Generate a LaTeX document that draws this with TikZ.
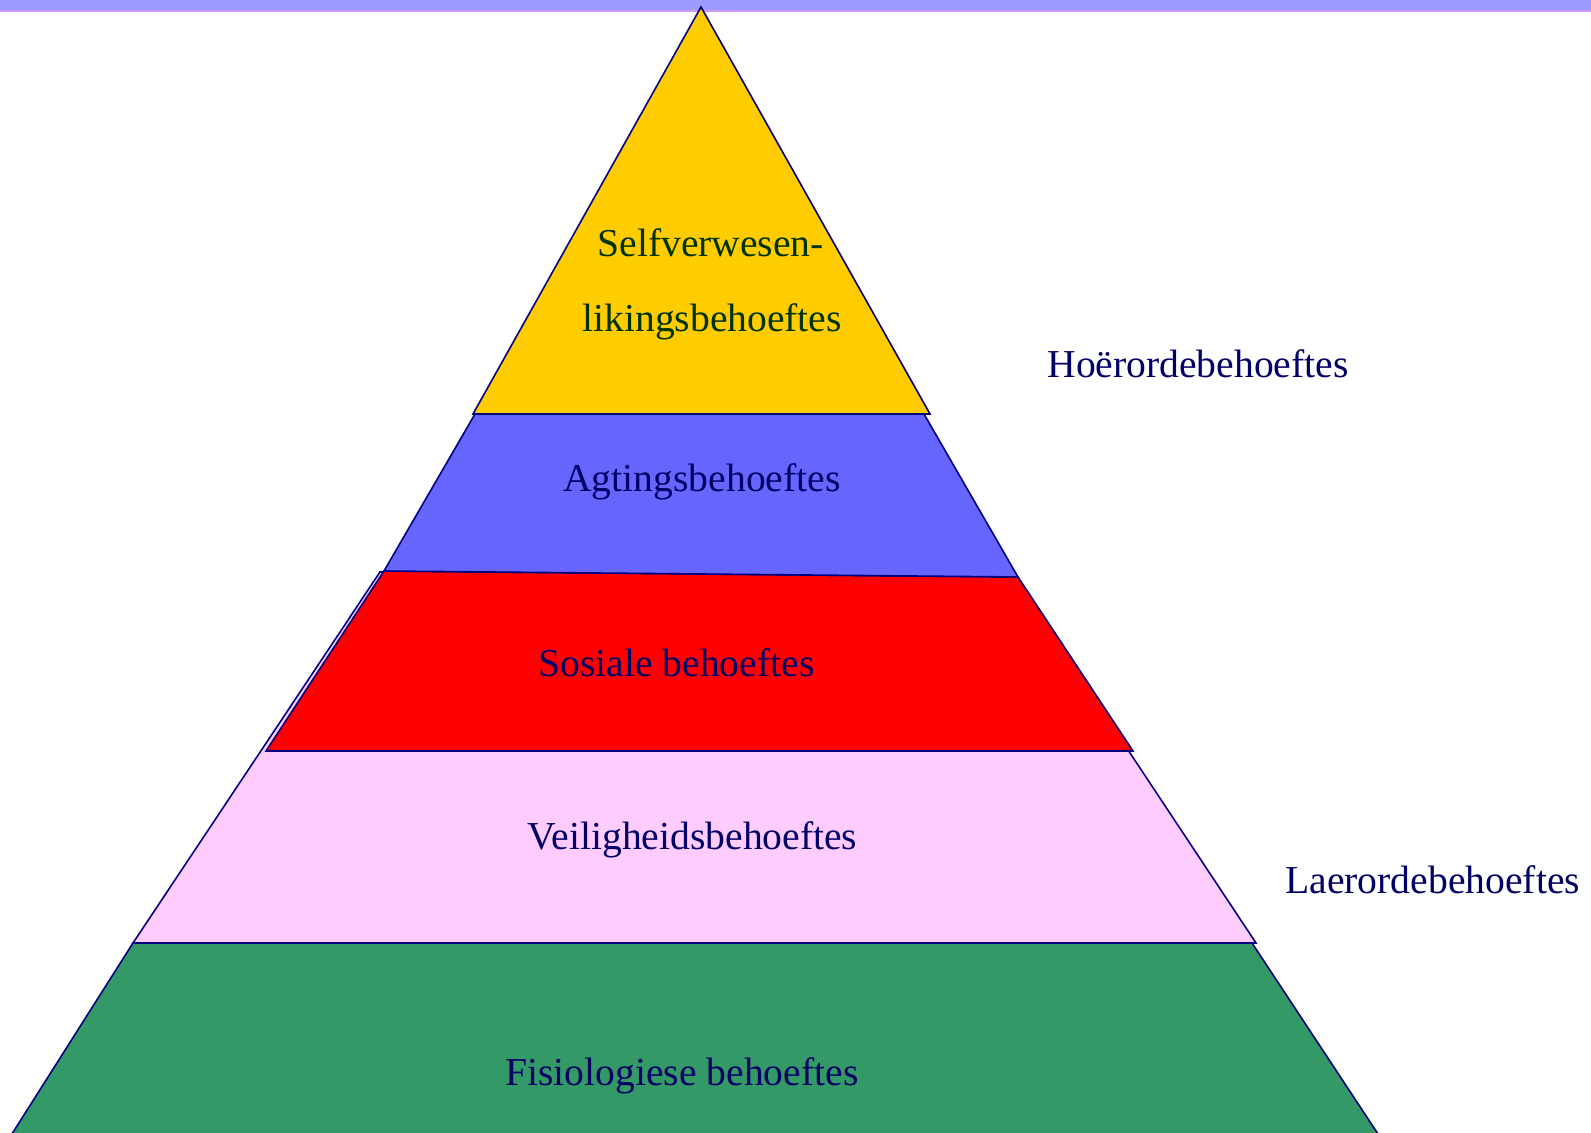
\documentclass[tikz,border=0pt]{standalone}
\usepackage{fontspec}
\setmainfont{Liberation Serif}
\definecolor{barblue}{HTML}{9C9CFF}
\definecolor{barlilac}{HTML}{CC99FF}
\definecolor{edgenavy}{HTML}{000080}
\definecolor{textnavy}{HTML}{000066}
\definecolor{textgreen}{HTML}{003300}
\definecolor{layyellow}{HTML}{FFCC00}
\definecolor{layblue}{HTML}{6666FF}
\definecolor{layred}{HTML}{FF0000}
\definecolor{laypink}{HTML}{FFCCFF}
\definecolor{laygreen}{HTML}{339966}
\begin{document}
\begin{tikzpicture}[x=0.5pt,y=-0.5pt,
  layer/.style={draw=edgenavy,line width=0.8pt,line join=miter},
  lbl/.style={anchor=base west,inner sep=0pt,text=textnavy,font=\fontsize{19.8}{23}\selectfont}]
\useasboundingbox (0,0) rectangle (1591,1133);
\clip (0,0) rectangle (1591,1133);
\fill[white] (0,0) rectangle (1591,1133);
% top bar
\fill[barblue] (0,0) rectangle (1591,10);
\fill[barlilac] (0,10) rectangle (1591,12);
% layers
\filldraw[layer,fill=laygreen] (133,943) -- (1252,943) -- (1380,1137) -- (10,1137) -- cycle;
\filldraw[layer,fill=laypink] (380,572) -- (1010,572) -- (1256,943) -- (133,943) -- cycle;
\filldraw[layer,fill=layred] (384,571) -- (1018,577) -- (1133,751) -- (266,751) -- cycle;
\filldraw[layer,fill=layblue] (475,414) -- (924,414) -- (1018,577) -- (384,571) -- cycle;
\filldraw[layer,fill=layyellow] (701,7) -- (930,414) -- (473,414) -- cycle;
% labels
\node[lbl,text=textgreen] (self1) at (597,257) {Selfverwesen-};
\node[lbl,text=textgreen] (self2) at (582,332) {likingsbehoeftes};
\node[lbl] (agt) at (563,492) {Agtingsbehoeftes};
\node[lbl] (sos) at (538,677) {Sosiale behoeftes};
\node[lbl] (vei) at (527,849) {Veiligheidsbehoeftes};
\node[lbl] (fis) at (505,1085) {Fisiologiese behoeftes};
\node[lbl] (hoe) at (1047,378) {Hoërordebehoeftes};
\node[lbl] (lae) at (1285,893) {Laerordebehoeftes};
\end{tikzpicture}
\end{document}
